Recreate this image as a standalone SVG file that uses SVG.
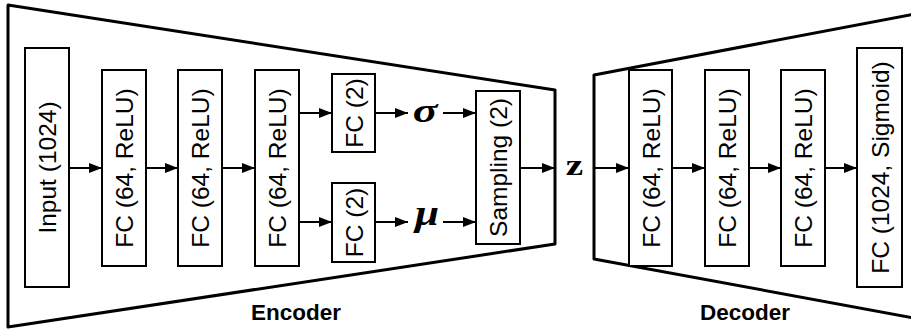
<svg xmlns="http://www.w3.org/2000/svg" width="911" height="329" viewBox="0 0 911 329">
<style>
.box{fill:#fff;stroke:#000;stroke-width:2}
.lbl{font-family:"Liberation Sans",Arial,sans-serif;font-size:24.5px;fill:#000;text-anchor:middle}
.title{font-family:"Liberation Sans",Arial,sans-serif;font-size:22.5px;font-weight:bold;fill:#000;text-anchor:middle}
.trap{fill:none;stroke:#000;stroke-width:3;stroke-linejoin:round}
.conn line{stroke:#000;stroke-width:2}
.math{font-family:"Liberation Serif","Times New Roman",serif;font-weight:bold;fill:#000;text-anchor:middle}
</style>
<defs>
<marker id="ah" markerUnits="userSpaceOnUse" markerWidth="13" markerHeight="10" refX="13" refY="5" orient="auto">
<path d="M0,0 L13,5 L0,10 z" fill="#000"/>
</marker>
</defs>
<g id="encoder-shape"><polygon class="trap" points="8,5 555,90 555,244 8,327"/></g>
<g id="decoder-shape"><polyline class="trap" points="925,12 594,75 594,259 925,320"/></g>
<text class="title" x="296" y="320">Encoder</text>
<text class="title" x="745" y="320">Decoder</text>
<g id="input"><rect class="box" x="25" y="48" width="44" height="239"/><text class="lbl" transform="translate(56,167.5) rotate(-90)">Input (1024)</text></g>
<g id="enc1"><rect class="box" x="102" y="70" width="44" height="196"/><text class="lbl" transform="translate(133,168) rotate(-90)">FC (64, ReLU)</text></g>
<g id="enc2"><rect class="box" x="178" y="70" width="44" height="196"/><text class="lbl" transform="translate(209,168) rotate(-90)">FC (64, ReLU)</text></g>
<g id="enc3"><rect class="box" x="255" y="70" width="44" height="196"/><text class="lbl" transform="translate(286,168) rotate(-90)">FC (64, ReLU)</text></g>
<g id="fc-sigma"><rect class="box" x="332" y="74" width="43" height="78"/><text class="lbl" transform="translate(362.5,113) rotate(-90)">FC (2)</text></g>
<g id="fc-mu"><rect class="box" x="332" y="183" width="43" height="79"/><text class="lbl" transform="translate(362.5,222.5) rotate(-90)">FC (2)</text></g>
<g id="sigma"><text class="math" font-style="italic" font-size="34" transform="translate(425,122) scale(1.35,1)">σ</text></g>
<g id="mu"><text class="math" font-style="italic" font-size="36" transform="translate(427,225) scale(1.2,1)">μ</text></g>
<g id="sampling"><rect class="box" x="476" y="91" width="44" height="153"/><text class="lbl" transform="translate(507,167.5) rotate(-90)">Sampling (2)</text></g>
<g id="z"><text class="math" font-size="29" transform="translate(574.5,175) scale(1.35,1)">z</text></g>
<g id="dec1"><rect class="box" x="629" y="70" width="43" height="196"/><text class="lbl" transform="translate(659.5,168) rotate(-90)">FC (64, ReLU)</text></g>
<g id="dec2"><rect class="box" x="705" y="70" width="44" height="196"/><text class="lbl" transform="translate(736,168) rotate(-90)">FC (64, ReLU)</text></g>
<g id="dec3"><rect class="box" x="781" y="70" width="44" height="196"/><text class="lbl" transform="translate(812,168) rotate(-90)">FC (64, ReLU)</text></g>
<g id="output"><rect class="box" x="857" y="48" width="45" height="239"/><text class="lbl" transform="translate(888.5,167.5) rotate(-90)">FC (1024, Sigmoid)</text></g>
<g class="conn" id="connectors">
<line x1="69" y1="168" x2="102" y2="168" marker-end="url(#ah)"/>
<line x1="146" y1="168" x2="178" y2="168" marker-end="url(#ah)"/>
<line x1="222" y1="168" x2="255" y2="168" marker-end="url(#ah)"/>
<line x1="299" y1="113" x2="332" y2="113" marker-end="url(#ah)"/>
<line x1="299" y1="222" x2="332" y2="222" marker-end="url(#ah)"/>
<line x1="375" y1="113" x2="408" y2="113" marker-end="url(#ah)"/>
<line x1="443" y1="113" x2="476" y2="113" marker-end="url(#ah)"/>
<line x1="375" y1="222" x2="408" y2="222" marker-end="url(#ah)"/>
<line x1="443" y1="222" x2="476" y2="222" marker-end="url(#ah)"/>
<line x1="520" y1="168" x2="555" y2="168" marker-end="url(#ah)"/>
<line x1="594" y1="168" x2="629" y2="168" marker-end="url(#ah)"/>
<line x1="672" y1="168" x2="705" y2="168" marker-end="url(#ah)"/>
<line x1="749" y1="168" x2="781" y2="168" marker-end="url(#ah)"/>
<line x1="825" y1="168" x2="857" y2="168" marker-end="url(#ah)"/>
</g>
</svg>
